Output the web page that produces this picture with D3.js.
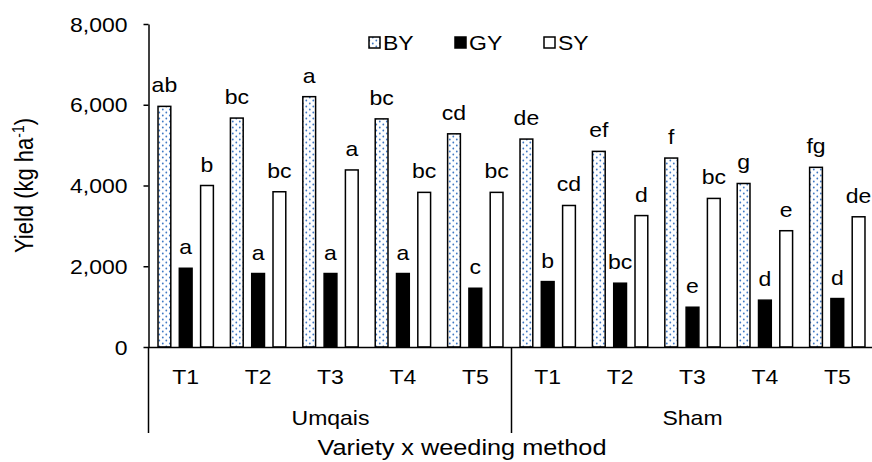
<!DOCTYPE html>
<html>
<head>
<meta charset="utf-8">
<script src="https://cdn.jsdelivr.net/npm/d3@7"></script>
<style>
  html, body { margin: 0; padding: 0; background: #fff; }
  svg { display: block; font-family: "Liberation Sans", Arial, sans-serif; }
</style>
</head>
<body>
<svg id="chart" width="872" height="462"></svg>
<script>
// ---- data ----
const varieties = ["Umqais", "Sham"];
const treatments = ["T1", "T2", "T3", "T4", "T5"];
const seriesNames = ["BY", "GY", "SY"];
const BY = [5960, 5670, 6200, 5650, 5280, 5150, 4845, 4680, 4050, 4450];
const GY = [1950, 1820, 1820, 1820, 1455, 1620, 1580, 985, 1160, 1200];
const SY = [4000, 3845, 4385, 3830, 3830, 3505, 3255, 3680, 2880, 3225];
const BYletters = ["ab", "bc", "a", "bc", "cd", "de", "ef", "f", "g", "fg"];
const GYletters = ["a", "a", "a", "a", "c", "b", "bc", "e", "d", "d"];
const SYletters = ["b", "bc", "a", "bc", "bc", "cd", "d", "bc", "e", "de"];
const yTicks = [0, 2000, 4000, 6000, 8000];

// ---- build table ----
const cats = [];
varieties.forEach(v => treatments.forEach(t => cats.push(v + "|" + t)));
const seriesVals = { BY: BY, GY: GY, SY: SY };
const seriesLetters = { BY: BYletters, GY: GYletters, SY: SYletters };

const SX = 1.15; // horizontal stretch of text as in reference
const svg = d3.select("#chart");

const axisX = 148.5, y0px = 347, yTop = 24;
const x0 = d3.scaleBand().domain(cats).range([149.5, 149.5 + 724]).padding(0);
const x1 = d3.scaleBand().domain(seriesNames).range([0, x0.bandwidth()])
  .paddingInner(0.4).paddingOuter(0.4);
const y = d3.scaleLinear().domain([0, 8000]).range([y0px, yTop]);

// pattern for BY
const defs = svg.append("defs");
const pat = defs.append("pattern").attr("id", "dots")
  .attr("patternUnits", "userSpaceOnUse").attr("width", 7).attr("height", 6);
pat.append("rect").attr("width", 7).attr("height", 6).attr("fill", "#ffffff");
pat.append("circle").attr("cx", 1.8).attr("cy", 1.5).attr("r", 0.9).attr("fill", "#3f78c4");
pat.append("circle").attr("cx", 5.3).attr("cy", 4.5).attr("r", 0.9).attr("fill", "#3f78c4");

const fills = { BY: "url(#dots)", GY: "#000000", SY: "#ffffff" };

function stretchText(sel) {
  sel.each(function () {
    const t = d3.select(this);
    const x = +t.attr("data-x"), yy = +t.attr("data-y");
    t.attr("transform", `translate(${x},${yy}) scale(${SX},1)`);
  });
}

// bars
const gBars = svg.append("g");
seriesNames.forEach(s => {
  gBars.selectAll(".bar-" + s)
    .data(cats.map((c, i) => ({ c, v: seriesVals[s][i], l: seriesLetters[s][i] })))
    .join("rect")
    .attr("x", d => x0(d.c) + x1(s))
    .attr("y", d => y(d.v))
    .attr("width", x1.bandwidth())
    .attr("height", d => y(0) - y(d.v))
    .attr("fill", fills[s])
    .attr("stroke", "#000")
    .attr("stroke-width", 1.5);
  gBars.selectAll(".lab-" + s)
    .data(cats.map((c, i) => ({ c, v: seriesVals[s][i], l: seriesLetters[s][i] })))
    .join("text")
    .attr("data-x", d => x0(d.c) + x1(s) + x1.bandwidth() / 2)
    .attr("data-y", d => y(d.v) - 14)
    .attr("text-anchor", "middle")
    .attr("font-size", 20)
    .attr("fill", "#000")
    .text(d => d.l)
    .call(stretchText);
});

// y axis
const yAxis = d3.axisLeft(y).tickValues(yTicks).tickFormat(d3.format(","))
  .tickSizeInner(5).tickSizeOuter(0);
const gy = svg.append("g").attr("transform", `translate(${axisX},0)`).call(yAxis);
gy.select(".domain").attr("stroke", "#000").attr("stroke-width", 1.5);
gy.selectAll(".tick line").attr("stroke", "#000").attr("stroke-width", 1.5);
gy.selectAll(".tick text")
  .attr("x", null).attr("dy", null)
  .attr("font-size", 20).attr("font-family", "Liberation Sans, Arial, sans-serif")
  .attr("fill", "#000")
  .attr("transform", `translate(-21,7) scale(${SX},1)`);

// x axis
const xAxis = d3.axisBottom(x0).tickSize(0).tickFormat(d => d.split("|")[1]);
const gx = svg.append("g").attr("transform", `translate(0,${y0px})`).call(xAxis);
gx.select(".domain").attr("stroke", "#000").attr("stroke-width", 1.5)
  .attr("d", `M${axisX},0.5H872`);
gx.selectAll(".tick text")
  .attr("y", null).attr("dy", null)
  .attr("font-size", 20).attr("font-family", "Liberation Sans, Arial, sans-serif")
  .attr("fill", "#000")
  .attr("transform", `translate(0,37) scale(${SX},1)`);

// group separators
const bounds = [cats[0], cats[5]].map(c => x0(c));
bounds.push(x0(cats[9]) + x0.bandwidth());
svg.append("g").selectAll("line").data(bounds).join("line")
  .attr("x1", (d, i) => i === 0 ? axisX : d).attr("x2", (d, i) => i === 0 ? axisX : d)
  .attr("y1", y0px).attr("y2", 433)
  .attr("stroke", "#000").attr("stroke-width", 1.5);

// group labels
svg.append("g").selectAll("text").data(varieties).join("text")
  .attr("data-x", (v, i) => (x0(cats[i * 5]) + x0(cats[i * 5 + 4]) + x0.bandwidth()) / 2)
  .attr("data-y", 425)
  .attr("text-anchor", "middle").attr("font-size", 20).attr("fill", "#000")
  .text(d => d).call(stretchText);

// axis titles
svg.append("text").attr("data-x", 462).attr("data-y", 455)
  .attr("text-anchor", "middle").attr("font-size", 22).attr("fill", "#000")
  .text("Variety x weeding method").call(stretchText);

const yt = svg.append("text").attr("text-anchor", "middle").attr("font-size", 22)
  .attr("fill", "#000")
  .attr("transform", `translate(33,${(y0px + yTop) / 2}) rotate(-90) scale(1,${SX})`);
yt.append("tspan").text("Yield (kg ha");
yt.append("tspan").attr("font-size", 14).attr("dy", -8).text("-1");
yt.append("tspan").attr("dy", 8).text(")");

// legend
const legend = svg.append("g");
const legendX = [369, 455, 544];
seriesNames.forEach((s, i) => {
  legend.append("rect").attr("x", legendX[i]).attr("y", 37).attr("width", 11).attr("height", 11)
    .attr("fill", fills[s]).attr("stroke", "#000").attr("stroke-width", 1.5);
  legend.append("text").attr("data-x", legendX[i] + 14).attr("data-y", 50)
    .attr("font-size", 20).attr("fill", "#000").text(s).call(stretchText);
});
</script>
</body>
</html>
